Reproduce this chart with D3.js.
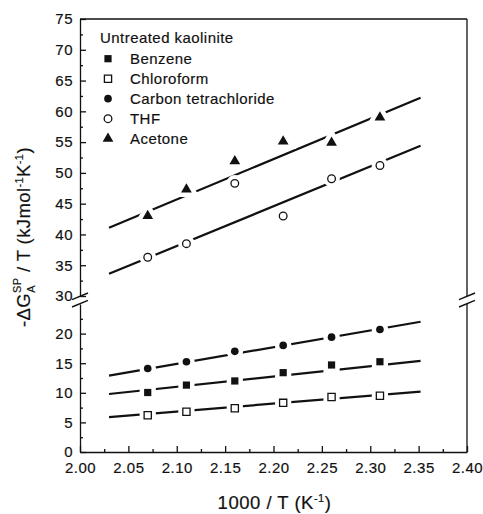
<!DOCTYPE html>
<html>
<head>
<meta charset="utf-8">
<script src="https://cdn.jsdelivr.net/npm/d3@7"></script>
<style>
body { margin: 0; background: #fff; }
text { font-family: "Liberation Sans", Arial, Helvetica, sans-serif; fill: #111; stroke: #111; stroke-width: 0.18px; }
</style>
</head>
<body>
<script>
// DATA
var invT = [2.07, 2.11, 2.16, 2.21, 2.26, 2.31];
var benzene = [10.05, 11.3, 12.0, 13.4, 14.7, 15.25];
var chloroform = [6.2, 6.8, 7.4, 8.3, 9.3, 9.5];
var carbonTet = [14.1, 15.25, 17.0, 18.0, 19.4, 20.7];
var thf = [36.3, 38.5, 48.3, 43.0, 49.05, 51.2];
var acetone = [43.0, 47.3, 51.9, 55.1, 54.9, 59.0];

// fitted lines, start/end values at fitX
var fitX = [2.03, 2.352];
var benzeneFit = [9.8, 15.4];
var chloroformFit = [5.9, 10.2];
var carbonTetFit = [12.9, 22.0];
var thfFit = [33.6, 54.4];
var acetoneFit = [41.1, 62.2];

var names = ["Benzene", "Chloroform", "Carbon tetrachloride", "THF", "Acetone"];
var xTicks = [2.00, 2.05, 2.10, 2.15, 2.20, 2.25, 2.30, 2.35, 2.40];
var yTicksLow = [0, 5, 10, 15, 20];
var yTicksHigh = [30, 35, 40, 45, 50, 55, 60, 65, 70, 75];

var series = [
  {name: names[0], values: benzene, fit: benzeneFit, shape: d3.symbolSquare, filled: true, part: "low"},
  {name: names[1], values: chloroform, fit: chloroformFit, shape: d3.symbolSquare, filled: false, part: "low"},
  {name: names[2], values: carbonTet, fit: carbonTetFit, shape: d3.symbolCircle, filled: true, part: "low"},
  {name: names[3], values: thf, fit: thfFit, shape: d3.symbolCircle, filled: false, part: "high"},
  {name: names[4], values: acetone, fit: acetoneFit, shape: d3.symbolTriangle, filled: true, part: "high"}
];

var svgWidth = 483, svgHeight = 514;
var plotLeft = 80, plotRight = 467, plotTop = 19, plotBottom = 452;

var svg = d3.select("body").append("svg")
  .attr("width", svgWidth)
  .attr("height", svgHeight);

// SCALES
var x = d3.scaleLinear().domain([2.0, 2.4]).range([plotLeft, plotRight]);
var yLow = d3.scaleLinear().domain([0, 25]).range([plotBottom, 304]);
var yHigh = d3.scaleLinear().domain([30, 75]).range([296, plotTop]);
function yOf(part) { return part === "low" ? yLow : yHigh; }

function minorBetween(ticks, step) {
  return ticks.map(function(t) { return t + step; });
}

// AXES
svg.append("g").attr("transform", "translate(0," + plotBottom + ")")
  .call(d3.axisBottom(x).tickValues(xTicks).tickSize(-6).tickSizeOuter(0).tickPadding(10)
    .tickFormat(d3.format(".2f")));
svg.append("g").attr("transform", "translate(0," + plotBottom + ")")
  .call(d3.axisBottom(x).tickValues(minorBetween(xTicks.slice(0, -1), 0.025)).tickSize(-3).tickFormat(""))
  .select(".domain").remove();

svg.append("g").attr("transform", "translate(" + plotLeft + ",0)")
  .call(d3.axisLeft(yHigh).tickValues(yTicksHigh).tickSize(-6).tickSizeOuter(0).tickPadding(7));
svg.append("g").attr("transform", "translate(" + plotLeft + ",0)")
  .call(d3.axisLeft(yLow).tickValues(yTicksLow).tickSize(-6).tickSizeOuter(0).tickPadding(7));
svg.append("g").attr("transform", "translate(" + plotLeft + ",0)")
  .call(d3.axisLeft(yHigh).tickValues(minorBetween(yTicksHigh.slice(0, -1), 2.5)).tickSize(-3).tickFormat(""))
  .select(".domain").remove();
svg.append("g").attr("transform", "translate(" + plotLeft + ",0)")
  .call(d3.axisLeft(yLow).tickValues(minorBetween(yTicksLow, 2.5)).tickSize(-3).tickFormat(""))
  .select(".domain").remove();

svg.selectAll(".tick text").style("font-size", "15px").style("letter-spacing", "0.5px")
  .attr("fill", "#111");
svg.selectAll(".domain, .tick line").attr("stroke", "#111").attr("stroke-width", 1.3);

// frame: top and right (right side broken)
svg.append("line").attr("x1", plotLeft).attr("x2", plotRight).attr("y1", plotTop).attr("y2", plotTop)
  .attr("stroke", "#111").attr("stroke-width", 1.3);
svg.append("line").attr("x1", plotRight).attr("x2", plotRight).attr("y1", plotTop).attr("y2", yHigh(30))
  .attr("stroke", "#111").attr("stroke-width", 1.3);
svg.append("line").attr("x1", plotRight).attr("x2", plotRight).attr("y1", yLow(25)).attr("y2", plotBottom)
  .attr("stroke", "#111").attr("stroke-width", 1.3);

// break marks
var breakY = (yHigh(30) + yLow(25)) / 2;
[plotLeft, plotRight].forEach(function(bxPos) {
  [-3.7, 3.7].forEach(function(off) {
    svg.append("line")
      .attr("x1", bxPos - 8).attr("y1", breakY + off + 3.3)
      .attr("x2", bxPos + 8).attr("y2", breakY + off - 3.3)
      .attr("stroke", "#111").attr("stroke-width", 1.4);
  });
});

// FIT LINES
series.forEach(function(s) {
  var ys = yOf(s.part);
  svg.append("line")
    .attr("x1", x(fitX[0])).attr("y1", ys(s.fit[0]))
    .attr("x2", x(fitX[1])).attr("y2", ys(s.fit[1]))
    .attr("stroke", "#111").attr("stroke-width", 2.2);
});

// MARKERS (white halo knocks the line out around each point)
function sizeOf(shape) {
  if (shape === d3.symbolTriangle) return 50;
  if (shape === d3.symbolCircle) return 46;
  return 52;
}
series.forEach(function(s) {
  var ys = yOf(s.part);
  var sym = d3.symbol().type(s.shape).size(sizeOf(s.shape));
  var g = svg.append("g");
  g.selectAll("path.halo").data(s.values).enter().append("path")
    .attr("class", "halo")
    .attr("d", sym)
    .attr("transform", function(d, i) { return "translate(" + x(invT[i]) + "," + ys(d) + ")"; })
    .attr("fill", "#fff").attr("stroke", "#fff").attr("stroke-width", 9);
  g.selectAll("path.mark").data(s.values).enter().append("path")
    .attr("class", "mark")
    .attr("d", sym)
    .attr("transform", function(d, i) { return "translate(" + x(invT[i]) + "," + ys(d) + ")"; })
    .attr("fill", s.filled ? "#111" : "#fff")
    .attr("stroke", "#111").attr("stroke-width", s.filled ? 0 : 1.3);
});

// LEGEND
var legend = svg.append("g").attr("transform", "translate(100,0)");
legend.append("text").attr("x", 0).attr("y", 38).attr("dy", "0.35em")
  .style("font-size", "15px").style("letter-spacing", "0.45px").text("Untreated kaolinite");
series.forEach(function(s, i) {
  var yy = 58.7 + i * 20;
  legend.append("path")
    .attr("d", d3.symbol().type(s.shape).size(sizeOf(s.shape))())
    .attr("transform", "translate(8," + yy + ")")
    .attr("fill", s.filled ? "#111" : "#fff")
    .attr("stroke", "#111").attr("stroke-width", s.filled ? 0 : 1.3);
  legend.append("text").attr("x", 30).attr("y", yy).attr("dy", "0.35em")
    .style("font-size", "15px").style("letter-spacing", "0.45px").text(s.name);
});

// AXIS TITLES
svg.append("text")
  .attr("x", (plotLeft + plotRight) / 2 + 1).attr("y", 509)
  .attr("text-anchor", "middle").style("font-size", "18.5px").style("letter-spacing", "0.5px")
  .html("1000 / T (K<tspan dy='-7' font-size='11'>-1</tspan><tspan dy='7'>)</tspan>");

var yl = svg.append("text")
  .attr("transform", "translate(30,237) rotate(-90)")
  .attr("text-anchor", "middle").style("font-size", "18.5px").style("letter-spacing", "0.4px");
yl.append("tspan").text("-ΔG");
yl.append("tspan").attr("dy", 5).style("font-size", "11px").text("A");
yl.append("tspan").attr("dy", -14).attr("dx", -8).style("font-size", "11px").text("SP");
yl.append("tspan").attr("dy", 9).text(" / T (kJmol");
yl.append("tspan").attr("dy", -7).style("font-size", "11px").text("-1");
yl.append("tspan").attr("dy", 7).text("K");
yl.append("tspan").attr("dy", -7).style("font-size", "11px").text("-1");
yl.append("tspan").attr("dy", 7).text(")");
</script>
</body>
</html>
